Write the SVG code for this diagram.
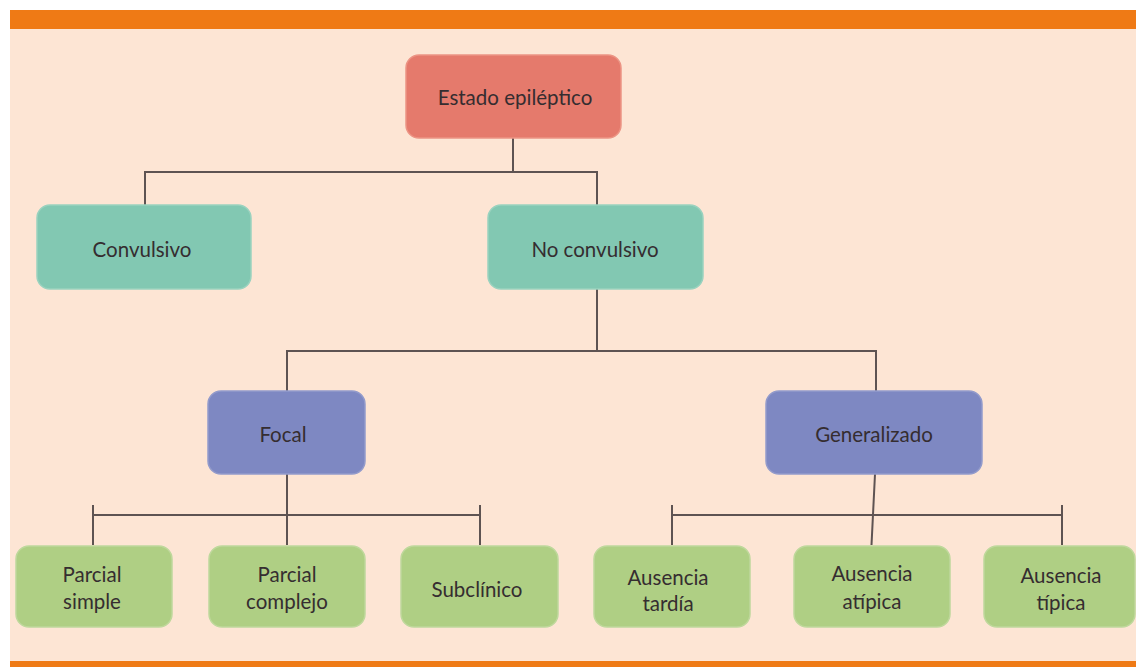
<svg xmlns="http://www.w3.org/2000/svg" width="1136" height="667" viewBox="0 0 1136 667">
<style>
.t{font-family:Lato,"Open Sans","Liberation Sans",sans-serif;font-size:20.5px;fill:#352d30;text-anchor:middle;dominant-baseline:central}
.n{stroke-width:1.5}
.red{fill:#E57A6C;stroke:#EC9484}
.teal{fill:#82C8B2;stroke:#9AD2BF}
.blue{fill:#7E88C2;stroke:#939BCB}
.green{fill:#AFCF84;stroke:#BFD89C}
.c{fill:none;stroke:#5e5352;stroke-width:2}
</style>
<rect x="0" y="0" width="1136" height="667" fill="#ffffff"/>
<rect x="10" y="29" width="1126" height="633" fill="#FDE5D4"/>
<rect x="10" y="10" width="1126" height="19" fill="#EF7A15"/>
<rect x="10" y="661" width="1126" height="6" fill="#EF7A15"/>
<g id="connectors">
<path class="c" d="M513 138V172M145 206V172H597V206"/>
<path class="c" d="M597 289V351M287 391V351H876V391"/>
<path class="c" d="M287 474V545M93 505V545M93 515H480M480 505V545"/>
<path class="c" d="M875 474L871.5 545M672 505V545M672 515H1062M1062 505V545"/>
</g>
<g id="n-estado"><rect class="n red" x="406" y="55" width="215" height="83" rx="13"/><text class="t" x="515" y="97">Estado epiléptico</text></g>
<g id="n-convulsivo"><rect class="n teal" x="37" y="205" width="214" height="84" rx="13"/><text class="t" x="142" y="249">Convulsivo</text></g>
<g id="n-noconvulsivo"><rect class="n teal" x="488" y="205" width="215" height="84" rx="13"/><text class="t" x="595" y="249">No convulsivo</text></g>
<g id="n-focal"><rect class="n blue" x="208" y="391" width="157" height="83" rx="13"/><text class="t" x="283" y="434">Focal</text></g>
<g id="n-generalizado"><rect class="n blue" x="766" y="391" width="216" height="83" rx="13"/><text class="t" x="874" y="434">Generalizado</text></g>
<g id="n-parcialsimple"><rect class="n green" x="16" y="546" width="156" height="81" rx="13"/><text class="t" x="92" y="574">Parcial</text><text class="t" x="92" y="601">simple</text></g>
<g id="n-parcialcomplejo"><rect class="n green" x="209" y="546" width="156" height="81" rx="13"/><text class="t" x="287" y="574">Parcial</text><text class="t" x="287" y="601">complejo</text></g>
<g id="n-subclinico"><rect class="n green" x="401" y="546" width="157" height="81" rx="13"/><text class="t" x="477" y="589">Subclínico</text></g>
<g id="n-tardia"><rect class="n green" x="594" y="546" width="156" height="81" rx="13"/><text class="t" x="668" y="577">Ausencia</text><text class="t" x="668" y="603">tardía</text></g>
<g id="n-atipica"><rect class="n green" x="794" y="546" width="156" height="81" rx="13"/><text class="t" x="872" y="573">Ausencia</text><text class="t" x="872" y="601">atípica</text></g>
<g id="n-tipica"><rect class="n green" x="984" y="546" width="151" height="81" rx="13"/><text class="t" x="1061" y="575">Ausencia</text><text class="t" x="1061" y="602">típica</text></g>
</svg>
